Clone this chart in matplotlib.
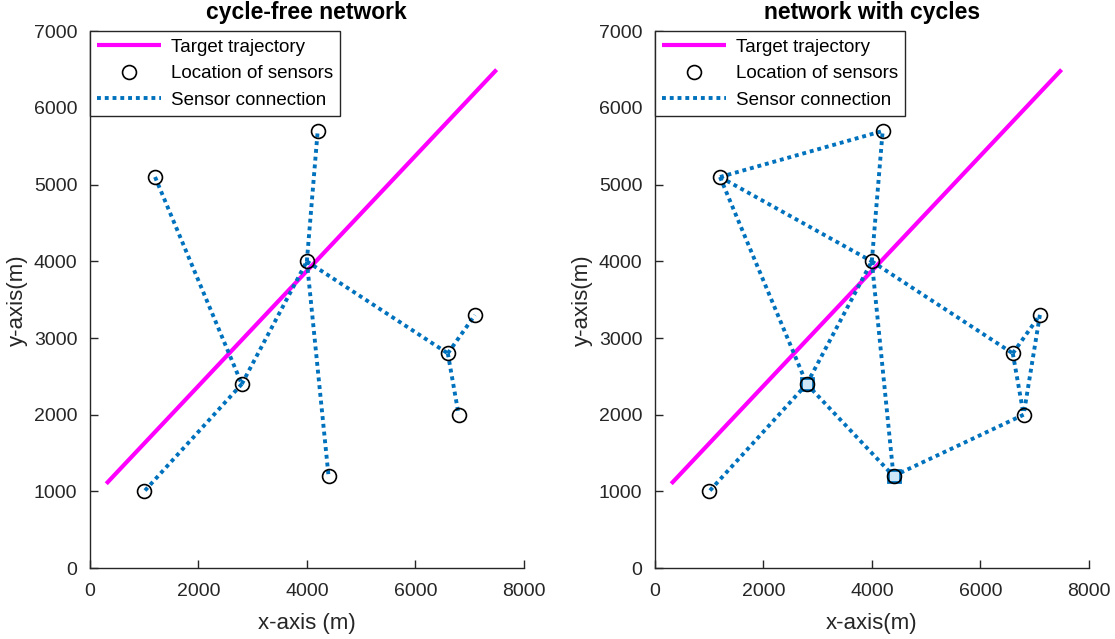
import matplotlib
matplotlib.use("Agg")
import matplotlib.pyplot as plt

plt.rcParams['font.family'] = ['Liberation Sans', 'DejaVu Sans']

# Target trajectory end points (m)
traj_x = [300, 7500]
traj_y = [1100, 6500]

# Sensor positions (m)
sensor_x = [1000, 2800, 4000, 1200, 4200, 4400, 6600, 7100, 6800]
sensor_y = [1000, 2400, 4000, 5100, 5700, 1200, 2800, 3300, 2000]

# Links as index pairs into the sensor lists
tree_links = [(3, 1), (1, 0), (1, 2), (2, 4), (2, 5), (2, 6), (6, 7), (6, 8)]
cycle_links = [(3, 4), (3, 2), (3, 1), (1, 0), (1, 2), (1, 5), (2, 4), (2, 5),
               (2, 6), (6, 7), (6, 8), (7, 8), (8, 5)]
# Sensors drawn as squares in the cyclic network
square_nodes = [1, 5]

titles = ['cycle-free network', 'network with cycles']
xlabels = ['x-axis (m)', 'x-axis(m)']
ylabel = 'y-axis(m)'

BLUE = '#0072BD'
MAG = '#FF00FF'
TXT = '#262626'

fig = plt.figure(figsize=(11.15, 6.39), dpi=100)
ax1 = fig.add_axes([0.0807, 0.111, 0.389, 0.840])
ax2 = fig.add_axes([0.5874, 0.111, 0.389, 0.840])


def draw(ax, links, squares, title, xlabel):
    lt, = ax.plot(traj_x, traj_y, color=MAG, lw=3, solid_capstyle='butt',
                  label='Target trajectory', zorder=2)
    lc = None
    for i, j in links:
        lc, = ax.plot([sensor_x[i], sensor_x[j]], [sensor_y[i], sensor_y[j]],
                      color=BLUE, lw=2.8, linestyle=(0, (1, 1)),
                      dash_capstyle='butt', zorder=3,
                      label='Sensor connection')
    for k in squares:
        ax.plot(sensor_x[k], sensor_y[k], 's', ms=9, mfc='#cfe6f7',
                mec=BLUE, mew=2, zorder=4)
    circ, = ax.plot(sensor_x, sensor_y, 'o', ms=10, mfc='none', mec='black',
                    mew=1.2, linestyle='none', label='Location of sensors',
                    zorder=5)
    ax.set_xlim(0, 8000)
    ax.set_ylim(0, 7000)
    ax.set_xticks([0, 2000, 4000, 6000, 8000])
    ax.set_yticks(range(0, 7001, 1000))
    for s in ('top', 'right'):
        ax.spines[s].set_visible(False)
    for s in ('left', 'bottom'):
        ax.spines[s].set_color(TXT)
        ax.spines[s].set_linewidth(1.0)
    ax.tick_params(direction='in', length=6, width=1, colors=TXT,
                   labelsize=14, pad=9)
    ax.tick_params(axis='x', pad=11)
    ax.set_title(title, fontsize=16.5, fontweight='bold', color='black', pad=9)
    ax.set_xlabel(xlabel, fontsize=16, color=TXT, labelpad=9)
    ax.set_ylabel(ylabel, fontsize=16, color=TXT, labelpad=4)
    leg = ax.legend(handles=[lt, circ, lc], loc='upper left', fontsize=13.5,
                    frameon=True, fancybox=False, edgecolor=TXT,
                    handlelength=3.4, handletextpad=0.5, borderaxespad=0.0,
                    borderpad=0.4, labelspacing=0.5)
    leg.get_frame().set_linewidth(1.0)
    leg.get_frame().set_alpha(1)


draw(ax1, tree_links, [], titles[0], xlabels[0])
draw(ax2, cycle_links, square_nodes, titles[1], xlabels[1])

fig.savefig('out.png', dpi=100)
